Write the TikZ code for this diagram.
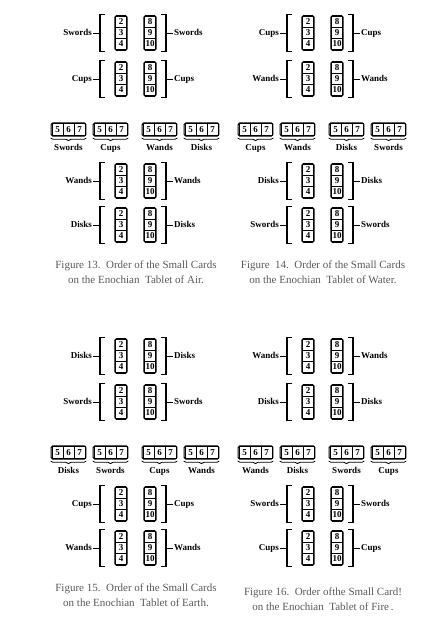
\documentclass[tikz,border=0pt]{standalone}
\usepackage{fontspec}
\setmainfont{Liberation Serif}
\usetikzlibrary{positioning,fit,decorations.pathreplacing}

% pile of small cards 2-4 and 8-10 between two brackets
\newcommand{\pile}[3]{%
  \node[card] (#1c2) at (121,#2-11) {2};
  \node[card,below=0pt of #1c2] (#1c3) {3};
  \node[card,below=0pt of #1c3] (#1c4) {4};
  \node[card] (#1c8) at (150,#2-11) {8};
  \node[card,below=0pt of #1c8] (#1c9) {9};
  \node[card,below=0pt of #1c9] (#1c10) {10};
  \node[frame,fit=(#1c2)(#1c4)] (#1lo) {};
  \node[frame,fit=(#1c8)(#1c10)] (#1hi) {};
  \draw[bracket] (105,#2-18.5) -| (100,#2+18.5) -- (105,#2+18.5);
  \draw[bracket] (161,#2-18.5) -| (166,#2+18.5) -- (161,#2+18.5);
  \coordinate (#1l) at (100,#2);
  \coordinate (#1r) at (166,#2);
  \node[suit,anchor=east] (#1sl) at (93,#2) {#3};
  \node[suit,anchor=west] (#1sr) at (173,#2) {#3};
  \draw[tick] (#1sl) -- (#1l);
  \draw[tick] (#1sr) -- (#1r);
}

% row of small cards 5-7 with a brace
\newcommand{\cardrow}[3]{%
  \node[cell] (#1c5) at (#2+6.5,129.5) {5};
  \node[cell,right=0pt of #1c5] (#1c6) {6};
  \node[cell,right=0pt of #1c6] (#1c7) {7};
  \node[frame,fit=(#1c5)(#1c7)] (#1box) {};
  \draw[brace] ([yshift=-1.5pt]#1box.south west) -- ([yshift=-1.5pt]#1box.south east);
  \node[suit,below=6pt of #1box] (#1s) {#3};
}

\begin{document}
\begin{tikzpicture}[x=1pt,y=-1pt,
  card/.style={draw,line width=0.6pt,minimum width=10.5pt,minimum height=11pt,inner sep=0pt,outer sep=0pt,font=\bfseries\fontsize{9}{9}\selectfont},
  cell/.style={card,minimum width=11pt,minimum height=11.5pt},
  frame/.style={draw,line width=1pt,rounded corners=1.5pt,inner sep=0.8pt},
  bracket/.style={line width=1.1pt},
  tick/.style={line width=0.8pt},
  brace/.style={decorate,decoration={brace,mirror,amplitude=2.5pt},line width=0.8pt},
  suit/.style={font=\bfseries\fontsize{9}{10}\selectfont,inner sep=1pt,text height=6.5pt,text depth=2pt},
  caption/.style={align=center,text=black!65,font=\fontsize{11}{15}\selectfont}]

\useasboundingbox (0,0) rectangle (434,619);

% Air
\begin{scope}
\pile{airA}{33}{Swords}
\pile{airB}{79}{Cups}
\cardrow{airR}{51}{Swords}
\cardrow{airS}{93}{Cups}
\cardrow{airT}{142}{Wands}
\cardrow{airU}{184}{Disks}
\pile{airC}{181}{Wands}
\pile{airD}{225}{Disks}
\node[caption] (aircap) at (136,272) {Figure 13.\ \ Order of the Small Cards\\on the Enochian\ \ Tablet of Air.};
\end{scope}

% Water
\begin{scope}[shift={(187,0)}]
\pile{watA}{33}{Cups}
\pile{watB}{79}{Wands}
\cardrow{watR}{51}{Cups}
\cardrow{watS}{93}{Wands}
\cardrow{watT}{142}{Disks}
\cardrow{watU}{184}{Swords}
\pile{watC}{181}{Disks}
\pile{watD}{225}{Swords}
\node[caption] (watcap) at (136,272) {Figure\ \ 14.\ \ Order of the Small Cards\\on the Enochian\ \ Tablet of Water.};
\end{scope}

% Earth
\begin{scope}[shift={(0,323)}]
\pile{earA}{33}{Disks}
\pile{earB}{79}{Swords}
\cardrow{earR}{51}{Disks}
\cardrow{earS}{93}{Swords}
\cardrow{earT}{142}{Cups}
\cardrow{earU}{184}{Wands}
\pile{earC}{181}{Cups}
\pile{earD}{225}{Wands}
\node[caption] (earcap) at (136,272) {Figure 15.\ \ Order of the Small Cards\\on the Enochian\ \ Tablet of Earth.};
\end{scope}

% Fire
\begin{scope}[shift={(187,323)}]
\pile{firA}{33}{Wands}
\pile{firB}{79}{Disks}
\cardrow{firR}{51}{Wands}
\cardrow{firS}{93}{Disks}
\cardrow{firT}{142}{Swords}
\cardrow{firU}{184}{Cups}
\pile{firC}{181}{Swords}
\pile{firD}{225}{Cups}
\node[caption] (fircap) at (136,276) {Figure 16.\ \ Order ofthe Small Card!\\on the Enochian\ \ Tablet of Fire\,.};
\end{scope}

\end{tikzpicture}
\end{document}
